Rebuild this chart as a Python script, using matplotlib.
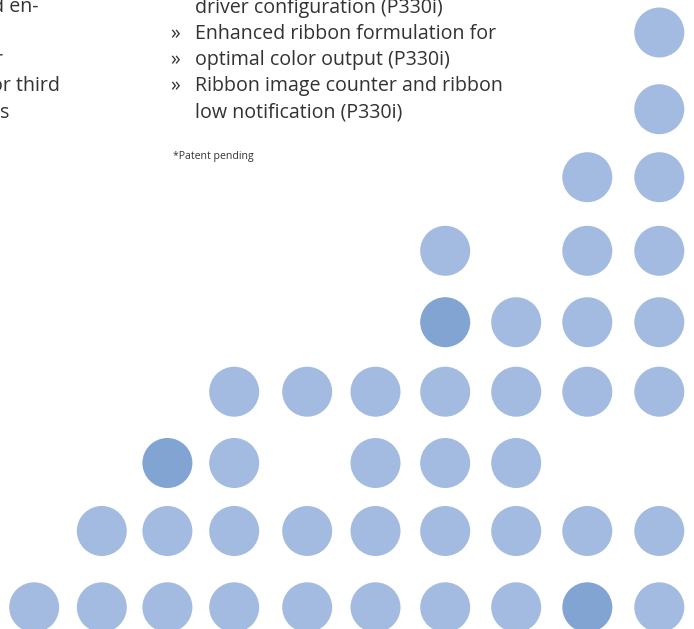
import matplotlib
matplotlib.use("Agg")
import matplotlib.pyplot as plt
from matplotlib.patches import Circle

# ---- data ----
col_x = [34.2, 101.8, 167.4, 234.2, 307.2, 375.5, 445.2, 516.2, 587.3, 659.3]
row_y = [32.5, 109.2, 177.2, 250.8, 322.2, 391.7, 463.0, 531.0, 607.3]
row_cols = [
    [9],
    [9],
    [8, 9],
    [6, 8, 9],
    [6, 7, 8, 9],
    [3, 4, 5, 6, 7, 8, 9],
    [2, 3, 5, 6, 7],
    [1, 2, 3, 4, 5, 6, 7, 8, 9],
    [0, 1, 2, 3, 4, 5, 6, 7, 8, 9],
]
dark_dots = [(4, 6), (6, 2), (8, 8)]  # (row, col)
dot_radius = 25

bullet_lines = [
    ("", "driver configuration (P330i)"),
    ("»", "Enhanced ribbon formulation for"),
    ("»", "optimal color output (P330i)"),
    ("»", "Ribbon image counter and ribbon"),
    ("", "low notification (P330i)"),
]
left_lines = ["d en-", "", "r", "or third", "s"]
left_starts = [-8, 0, -6, -9, 0]
footnote = "*Patent pending"

LIGHT = "#A3BBE0"
DARK = "#82A4D3"
TEXT = "#333333"

W, H = 694, 629
fig = plt.figure(figsize=(W / 100, H / 100), dpi=100)
ax = fig.add_axes([0, 0, 1, 1])
ax.set_xlim(0, W)
ax.set_ylim(H, 0)
ax.set_aspect("equal")
ax.axis("off")

for r, cols in enumerate(row_cols):
    for c in cols:
        color = DARK if (r, c) in dark_dots else LIGHT
        ax.add_patch(Circle((col_x[c], row_y[r]), dot_radius, facecolor=color,
                            edgecolor="none"))

line_y0 = 7.5
line_step = 26.3
fs = 14.1
fam = ["Open Sans", "DejaVu Sans"]
for i, (b, t) in enumerate(bullet_lines):
    y = line_y0 + i * line_step
    if b:
        ax.text(170, y, b, fontsize=fs, color=TEXT, va="center", ha="left", family=fam)
    ax.text(195, y, t, fontsize=fs, color=TEXT, va="center", ha="left", family=fam)

for i, t in enumerate(left_lines):
    if t:
        y = line_y0 + i * line_step
        ax.text(left_starts[i], y, t, fontsize=fs, color=TEXT, va="center",
                ha="left", family=fam)

ax.text(173, 157, footnote, fontsize=7.6, color=TEXT, va="center", ha="left", family=fam)

fig.savefig("out.png", dpi=100)
